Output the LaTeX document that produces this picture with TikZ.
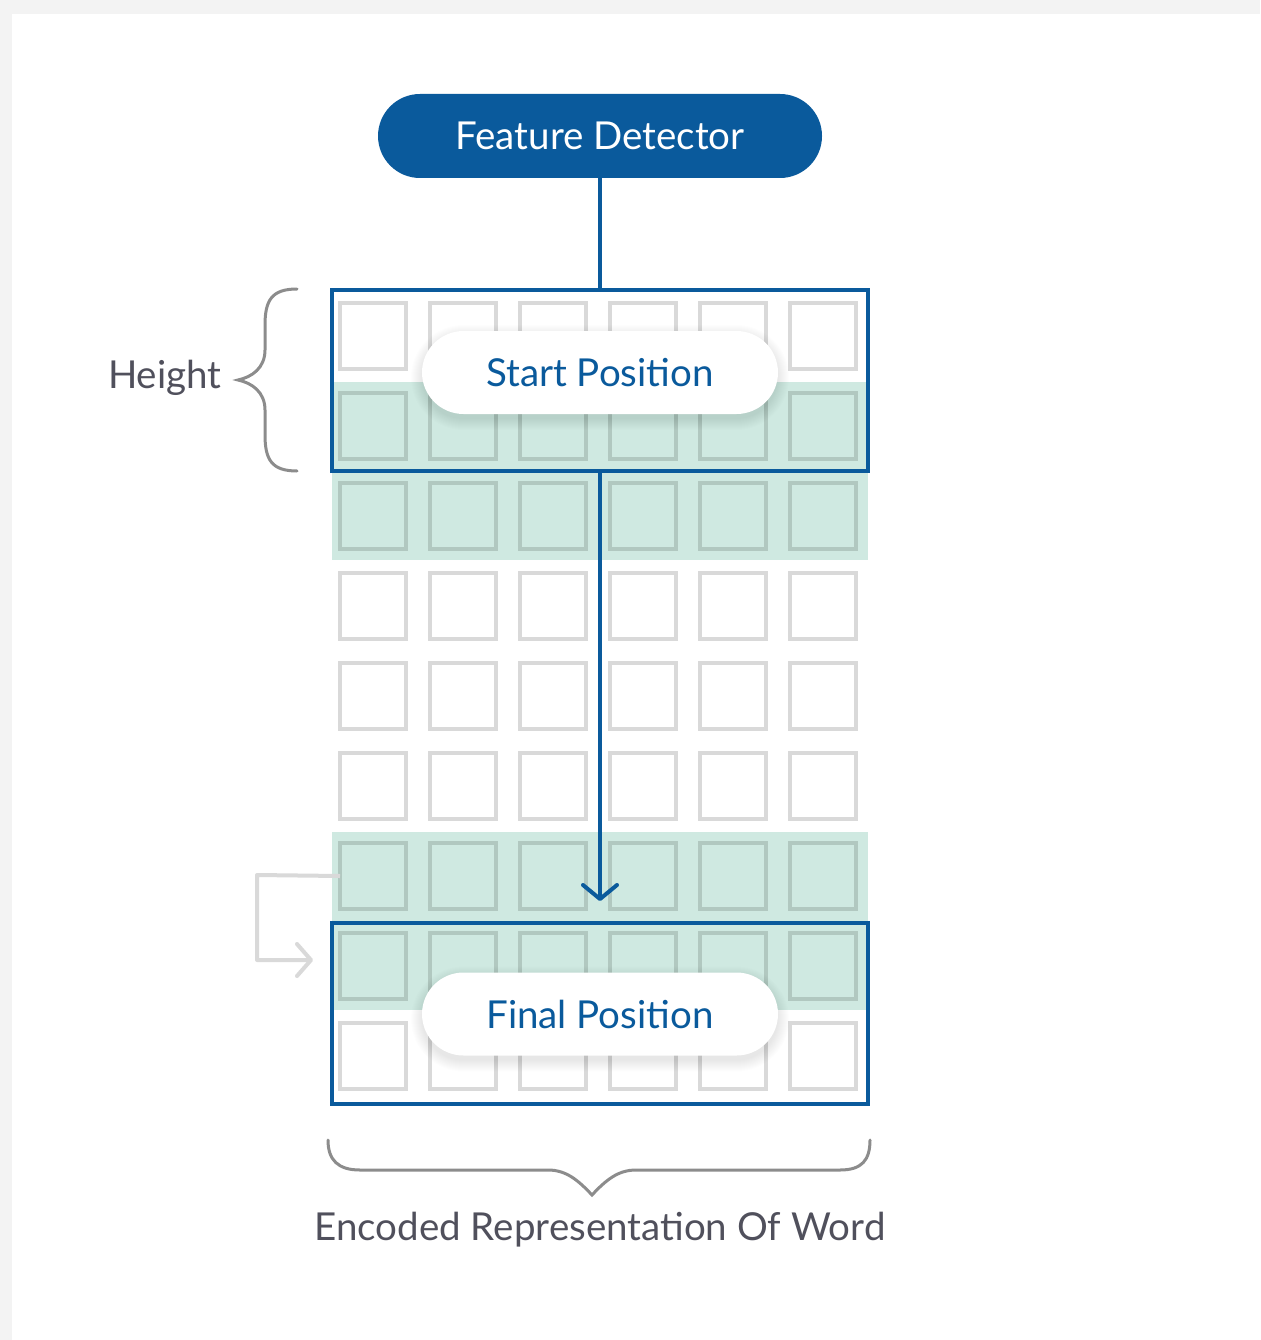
\documentclass[tikz,border=0pt]{standalone}
\usepackage{fontspec}
\setmainfont{Lato}
\usetikzlibrary{arrows.meta}

\definecolor{brandblue}{HTML}{0A5A9C}
\definecolor{bandgreen}{HTML}{CFE9E1}
\definecolor{cellgray}{HTML}{D9D9D9}
\definecolor{cellgreen}{HTML}{B1C8C0}
\definecolor{labelgray}{HTML}{50505C}
\definecolor{bracegray}{HTML}{8C8C8C}
\definecolor{pagegray}{HTML}{F3F3F3}

\newcommand{\diagfont}{\fontsize{38.5pt}{46pt}\selectfont}

% soft shadow under a pill: centre x, centre y, width, height
\newcommand{\softshadow}[4]{%
  \foreach \k in {0,1,...,11}{%
    \pgfmathsetmacro{\hw}{#3/2+\k}%
    \pgfmathsetmacro{\hh}{#4/2+\k}%
    \fill[black,opacity=0.009,rounded corners=\hh pt]
      (#1-\hw,#2-\hh+5) rectangle (#1+\hw,#2+\hh+5);
  }}

\begin{document}
\begin{tikzpicture}[x=1pt,y=-1pt,
  cell/.style={draw=cellgray, line width=4.5pt, minimum size=66pt, inner sep=0pt, outer sep=0pt},
  greencell/.style={cell, draw=cellgreen},
  band/.style={fill=bandgreen},
  window/.style={draw=brandblue, line width=3.8pt, minimum width=536pt, minimum height=181pt, inner sep=0pt},
  detector/.style={fill=brandblue, text=white, rounded corners=42pt, minimum width=444pt, minimum height=84pt, font=\diagfont},
  pill/.style={fill=white, text=brandblue, rounded corners=41.5pt, minimum width=356pt, minimum height=83pt, font=\diagfont},
  link/.style={draw=brandblue, line width=3.2pt},
  flow/.style={link, line width=4pt, -{Straight Barb[length=14pt, width=34pt, line cap=round, line join=round]}},
  feedback/.style={draw=cellgray, line width=4pt, line join=round, -{Straight Barb[length=14pt, width=32pt, line cap=round, line join=round]}},
  brace/.style={draw=bracegray, line width=3pt, line cap=round},
  caption/.style={text=labelgray, font=\diagfont}
]
% page and card
\useasboundingbox (0,0) rectangle (1260,1340);
\fill[pagegray] (0,0) rectangle (1260,1340);
\fill[white] (12,14) rectangle (1260,1340);

% highlighted rows
\fill[band] (332,382) rectangle (868,560);
\fill[band] (332,832) rectangle (868,1010);

% grid of cells: 6 columns x 9 rows
\foreach \j in {0,...,8}{
  \foreach \i in {0,...,5}{
    \ifnum\j=1 \def\cs{greencell}\else
    \ifnum\j=2 \def\cs{greencell}\else
    \ifnum\j=6 \def\cs{greencell}\else
    \ifnum\j=7 \def\cs{greencell}\else
    \def\cs{cell}\fi\fi\fi\fi
    \node[\cs] (c\i\j) at (373+90*\i, 336+90*\j) {};
  }
}

% sliding window frames
\node[window] (startframe) at (600,380.5) {};
\node[window] (finalframe) at (600,1013.5) {};

% feature detector and its connectors
\node[detector] (fd) at (600,136) {Feature Detector};
\draw[link] (fd.south) -- (startframe.north);
\coordinate (tip) at (600,901);
\draw[flow] (startframe.south) -- (tip);

% position labels
\softshadow{600}{372.5}{356}{83}
\node[pill] (startpill) at (600,372.5) {\raisebox{-2pt}{Start Position}};
\softshadow{600}{1014}{356}{83}
\node[pill] (finalpill) at (600,1014) {\raisebox{-2pt}{Final Position}};

% height brace and label
\draw[brace] (297,289) .. controls (272,289) and (265,300) .. (265,325)
  -- (265,350) .. controls (265,368) and (252,377) .. (238,380)
  .. controls (252,383) and (265,392) .. (265,410)
  -- (265,435) .. controls (265,460) and (272,471) .. (297,471);
\node[caption, anchor=east] (height) at (225,378) {Height};

% feedback arrow from the next row into the window
\coordinate (fbturn1) at (257,875);
\coordinate (fbturn2) at (257,960);
\coordinate (fbend) at (313,960);
\draw[feedback] (c06.west) -- (fbturn1) -- (fbturn2) -- (fbend);

% bottom brace and caption
\draw[brace] (328,1140) .. controls (328,1160) and (338,1170) .. (360,1170)
  -- (548,1170) .. controls (566,1170) and (578,1180) .. (592,1195)
  .. controls (606,1180) and (618,1170) .. (636,1170)
  -- (840,1170) .. controls (862,1170) and (870,1160) .. (870,1140);
\node[caption] (encoded) at (600,1230) {Encoded Representation Of Word};
\end{tikzpicture}
\end{document}
